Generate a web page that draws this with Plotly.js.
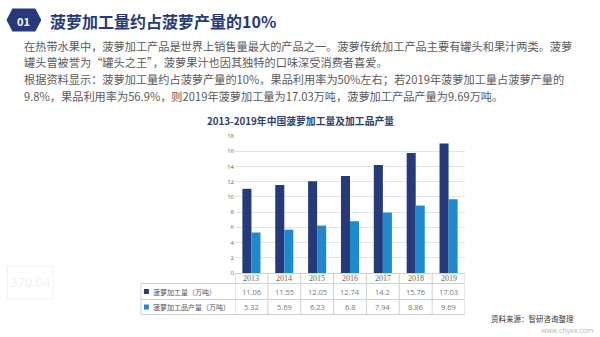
<!DOCTYPE html>
<html>
<head>
<meta charset="utf-8">
<script src="https://cdn.plot.ly/plotly-3.0.1.min.js"></script>
<style>
html,body{margin:0;padding:0;background:#fff;}
#chart{width:600px;height:337px;}
</style>
</head>
<body>
<div id="chart"></div>
<script>
// ---- data ----
const years = ['2013','2014','2015','2016','2017','2018','2019'];
const processVolume = [11.06, 11.55, 12.05, 12.74, 14.2, 15.76, 17.03];
const productOutput = [5.32, 5.69, 6.23, 6.8, 7.94, 8.86, 9.69];
const seriesNames = ['菠萝加工量（万吨）', '菠萝加工品产量（万吨）'];
const yTicks = [0, 2, 4, 6, 8, 10, 12, 14, 16, 18];
const pageTitle = '菠萝加工量约占菠萝产量的10%';
const badgeText = '01';
const chartTitle = '2013-2019年中国菠萝加工量及加工品产量';
const paragraph = [
  '在热带水果中，菠萝加工产品是世界上销售量最大的产品之一。菠萝传统加工产品主要有罐头和果汁两类。菠萝',
  '罐头曾被誉为“罐头之王”，菠萝果汁也因其独特的口味深受消费者喜爱。',
  '根据资料显示：菠萝加工量约占菠萝产量的10%，果品利用率为50%左右；若2019年菠萝加工量占菠萝产量的',
  '9.8%，果品利用率为56.9%，则2019年菠萝加工量为17.03万吨，菠萝加工产品产量为9.69万吨。'
];
const sourceText = '资料来源：智研咨询整理';
const siteText = 'www.chyxx.com';

// ---- layout geometry ----
const W = 600, H = 337;
const L = 234.5, R = 465.5, T = 136, B = 273;
const PW = R - L, PH = B - T;
const px = v => (v - L) / PW;      // pixel x -> paper
const py = v => (B - v) / PH;      // pixel y -> paper

const navy = '#263a7b';
const blue = '#1f89cf';
const grey = '#5a5a5a';
const lineC = '#d0d0d0';
const cjk = '"Noto Sans CJK SC", "Noto Sans", sans-serif';

const traces = [
  {type:'bar', x: years, y: processVolume, name: seriesNames[0],
   marker:{color: navy}, hoverinfo:'none'},
  {type:'bar', x: years, y: productOutput, name: seriesNames[1],
   marker:{color: blue}, hoverinfo:'none'}
];

const annotations = [];
const shapes = [];

// badge hexagon
const hex = [[5,20],[11,8.5],[34,8.5],[40,20],[34,31.5],[11,31.5]];
shapes.push({type:'path', xref:'paper', yref:'paper',
  path: 'M' + hex.map(p => px(p[0]) + ',' + py(p[1])).join(' L') + ' Z',
  fillcolor: navy, line:{width:0}, layer:'above'});
annotations.push({xref:'paper', yref:'paper', x: px(22.5), y: py(20.5), text: '<b>'+badgeText+'</b>',
  showarrow:false, font:{family:cjk, size:11, color:'#fff'}, xanchor:'center', yanchor:'middle'});
annotations.push({xref:'paper', yref:'paper', x: px(47), y: py(20.5), text: '<b>'+pageTitle+'</b>',
  showarrow:false, font:{family:cjk, size:16, color:navy}, xanchor:'left', yanchor:'middle'});

// paragraph lines
const lineYs = [46, 62.5, 79, 95.5];
paragraph.forEach((t, i) => {
  annotations.push({xref:'paper', yref:'paper', x: px(21), y: py(lineYs[i]), text: t,
    showarrow:false, font:{family:cjk, size:11.2, color:grey}, xanchor:'left', yanchor:'middle'});
});

// chart title
annotations.push({xref:'paper', yref:'paper', x: px(300), y: py(120.5), text:'<b>'+chartTitle+'</b>',
  showarrow:false, font:{family:cjk, size:9.8, color:'#2b3f6e'}, xanchor:'center', yanchor:'middle'});

// data table
const tLeft = 140, hdrBot = 283.5, row1Bot = 299.5, row2Bot = 314.5;
[hdrBot, row1Bot, row2Bot].forEach(yy => {
  shapes.push({type:'line', xref:'paper', yref:'paper', x0: px(tLeft), x1: 1, y0: py(yy), y1: py(yy),
    line:{color:lineC, width:1}});
});
shapes.push({type:'line', xref:'paper', yref:'paper', x0: px(tLeft), x1: px(tLeft), y0: py(hdrBot), y1: py(row2Bot),
  line:{color:lineC, width:1}});
for (let i = 0; i <= years.length; i++) {
  shapes.push({type:'line', xref:'x', yref:'paper', x0: i - 0.5, x1: i - 0.5, y0: 0, y1: py(row2Bot),
    line:{color:lineC, width:1}});
}
years.forEach((yr, i) => {
  annotations.push({xref:'x', yref:'paper', x: i, y: py(278.5), text: yr, showarrow:false,
    font:{family:'"Liberation Serif", serif', size:8, color:'#666'}, xanchor:'center', yanchor:'middle'});
  annotations.push({xref:'x', yref:'paper', x: i, y: py(291.5), text: String(processVolume[i]), showarrow:false,
    font:{family:'"Open Sans", sans-serif', size:7.5, color:'#777'}, xanchor:'center', yanchor:'middle'});
  annotations.push({xref:'x', yref:'paper', x: i, y: py(307), text: String(productOutput[i]), showarrow:false,
    font:{family:'"Open Sans", sans-serif', size:7.5, color:'#777'}, xanchor:'center', yanchor:'middle'});
});
[[291.5, navy], [307, blue]].forEach(([yy, c], k) => {
  shapes.push({type:'rect', xref:'paper', yref:'paper', x0: px(143), x1: px(148), y0: py(yy - 2.5), y1: py(yy + 2.5),
    fillcolor: c, line:{width:0}});
  annotations.push({xref:'paper', yref:'paper', x: px(150.5), y: py(yy), text: seriesNames[k], showarrow:false,
    font:{family:cjk, size:7, color:'#555'}, xanchor:'left', yanchor:'middle'});
});

// source
annotations.push({xref:'paper', yref:'paper', x: px(577), y: py(318), text: sourceText, showarrow:false,
  font:{family:cjk, size:7.5, color:'#333'}, xanchor:'right', yanchor:'middle'});
annotations.push({xref:'paper', yref:'paper', x: px(596), y: py(330), text: siteText, showarrow:false,
  font:{family:'"Open Sans", sans-serif', size:7, color:'#b8b8b8'}, xanchor:'right', yanchor:'middle'});

// faint background decoration
shapes.push({type:'rect', xref:'paper', yref:'paper', x0: px(6), x1: px(52), y0: py(266), y1: py(299),
  line:{color:'#eef2f8', width:1}, fillcolor:'rgba(0,0,0,0)', layer:'below'});
annotations.push({xref:'paper', yref:'paper', x: px(29), y: py(282), text: '370.04', showarrow:false,
  font:{family:'"Open Sans", sans-serif', size:13, color:'#eef2f8'}, xanchor:'center', yanchor:'middle'});

const layout = {
  width: W, height: H,
  margin: {l: L, r: W - R, t: T, b: H - B, pad: 0},
  paper_bgcolor: '#ffffff', plot_bgcolor: 'rgba(0,0,0,0)',
  showlegend: false,
  barmode: 'group', bargap: 0.45, bargroupgap: 0,
  xaxis: {type:'category', range:[-0.5, years.length - 0.5], autorange:false,
    showticklabels:false, ticks:'', showgrid:false,
    showline:true, linecolor:lineC, linewidth:1, zeroline:false, fixedrange:true},
  yaxis: {range:[0, 18], autorange:false, tickvals: yTicks, ticktext: yTicks.map(String), showgrid:true, gridcolor:'#e3e3e3', gridwidth:1,
    showline:false, zeroline:false, ticks:'', ticklen:0,
    tickfont:{family:'"Open Sans", sans-serif', size:6, color:'#666'}, fixedrange:true},
  shapes: shapes,
  annotations: annotations
};

Plotly.newPlot('chart', traces, layout, {displayModeBar:false, staticPlot:true});
</script>
</body>
</html>
